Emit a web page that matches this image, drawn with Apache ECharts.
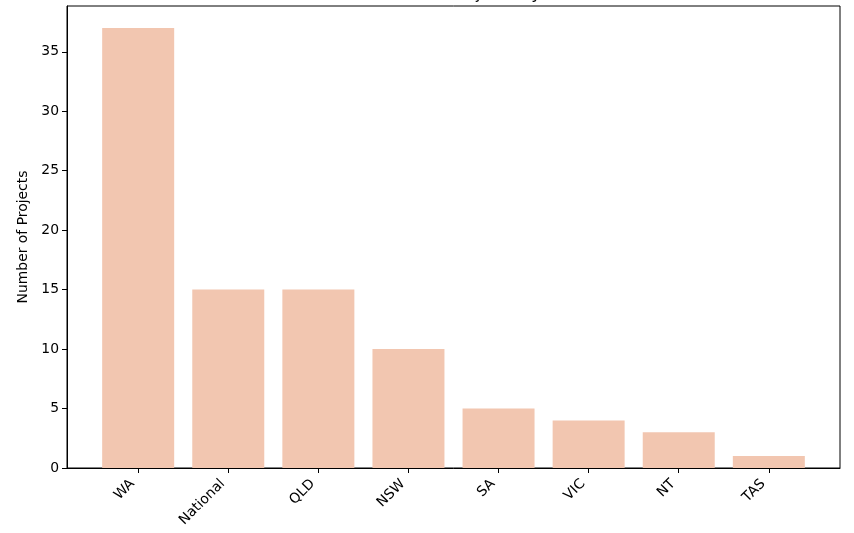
<!DOCTYPE html>
<html>
<head>
<meta charset="utf-8">
<script src="https://cdn.jsdelivr.net/npm/echarts@6/dist/echarts.min.js"></script>
<style>
  html, body { margin: 0; padding: 0; background: #fff; }
  #chart { width: 854px; height: 533px; }
</style>
</head>
<body>
<div id="chart"></div>
<script>
// data
var regions = ['WA', 'National', 'QLD', 'NSW', 'SA', 'VIC', 'NT', 'TAS']
var projectCounts = [37, 15, 15, 10, 5, 4, 3, 1]
var yTicks = [0, 5, 10, 15, 20, 25, 30, 35]

var chart = echarts.init(document.getElementById('chart'), null, { renderer: 'canvas' })

var positions = regions.map(function (r, i) { return i })
var barData = projectCounts.map(function (v, i) { return [i, v] })

var font = 'DejaVu Sans'

chart.setOption({
  animation: false,
  backgroundColor: '#ffffff',
  // title is mostly cropped off in the reference, only descenders show
  title: {
    text: 'Distribution of Projects by State',
    left: 453,
    textAlign: 'center',
    top: -19,
    textStyle: {
      fontFamily: font,
      fontSize: 16.7,
      fontWeight: 'normal',
      color: '#000'
    }
  },
  grid: {
    left: 67,
    right: 14,
    top: 6,
    bottom: 65,
    show: true,
    borderColor: '#000',
    borderWidth: 1,
    backgroundColor: 'transparent'
  },
  xAxis: {
    type: 'value',
    min: -0.79,
    max: 7.79,
    splitLine: { show: false },
    axisLine: { onZero: false, lineStyle: { color: '#000', width: 1 } },
    axisTick: {
      show: true,
      inside: false,
      length: 5,
      customValues: positions,
      lineStyle: { color: '#000' }
    },
    axisLabel: {
      customValues: positions,
      rotate: 45,
      margin: 8,
      padding: [0, 8, 0, 0],
      fontFamily: font,
      fontSize: 13.9,
      color: '#000',
      formatter: function (v) { return regions[Math.round(v)] }
    }
  },
  yAxis: {
    type: 'value',
    min: 0,
    max: 38.85,
    interval: 5,
    name: 'Number of Projects',
    nameLocation: 'middle',
    nameGap: 35,
    nameTextStyle: { fontFamily: font, fontSize: 13.9, color: '#000' },
    splitLine: { show: false },
    axisLine: { show: true, onZero: false, lineStyle: { color: '#000', width: 1 } },
    axisTick: {
      show: true,
      inside: false,
      length: 5,
      customValues: yTicks,
      lineStyle: { color: '#000' }
    },
    axisLabel: {
      customValues: yTicks,
      margin: 8,
      fontFamily: font,
      fontSize: 13.9,
      color: '#000'
    }
  },
  series: [{
    type: 'bar',
    data: barData,
    barWidth: 72,
    itemStyle: { color: '#f2c6b0' }
  }]
})
</script>
</body>
</html>
